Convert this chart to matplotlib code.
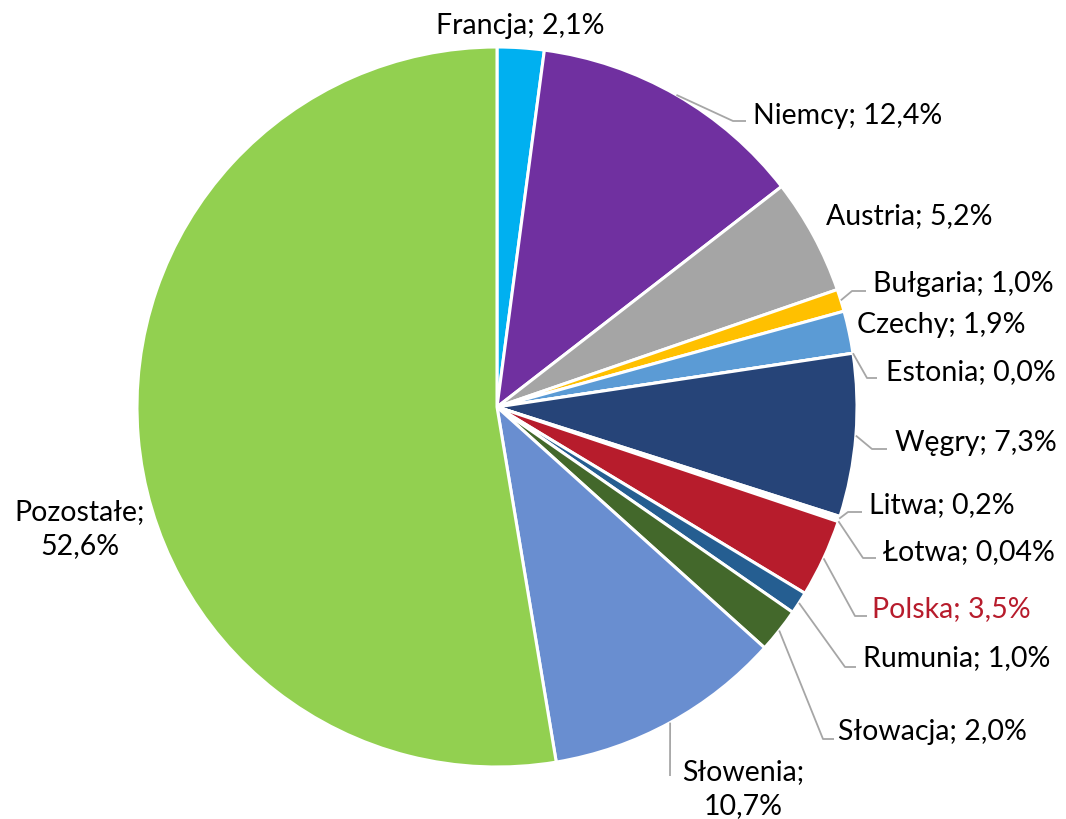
import numpy as np
import matplotlib
matplotlib.use("Agg")
import matplotlib.pyplot as plt

# data
labels = ['Francja', 'Niemcy', 'Austria', 'Bułgaria', 'Czechy', 'Estonia', 'Węgry',
          'Litwa', 'Łotwa', 'Polska', 'Rumunia', 'Słowacja', 'Słowenia', 'Pozostałe']
values = [2.1, 12.4, 5.2, 1.0, 1.9, 0.0, 7.3, 0.2, 0.04, 3.5, 1.0, 2.0, 10.7, 52.6]
texts = ['Francja; 2,1%', 'Niemcy; 12,4%', 'Austria; 5,2%', 'Bułgaria; 1,0%',
         'Czechy; 1,9%', 'Estonia; 0,0%', 'Węgry; 7,3%', 'Litwa; 0,2%',
         'Łotwa; 0,04%', 'Polska; 3,5%', 'Rumunia; 1,0%', 'Słowacja; 2,0%',
         'Słowenia;\n10,7%', 'Pozostałe;\n52,6%']
colors = ['#00B0F0', '#7030A0', '#A5A5A5', '#FFC000', '#5B9BD5', '#4472C4', '#264478',
          '#FFFFFF', '#FFFFFF', '#B71C2C', '#255E91', '#43682B', '#698ED0', '#92D050']

# layout (pixel coords, y down)
cx, cy, R = 497, 408, 360
# text position, alignment
text_pos = [(520, 26, 'center'), (753, 116, 'left'), (909, 216, 'center'),
            (873, 284, 'left'), (857, 325, 'left'), (886, 372, 'left'),
            (895, 443, 'left'), (869, 505, 'left'), (883, 552, 'left'),
            (872, 609, 'left'), (863, 658, 'left'), (838, 732, 'left'),
            (743, 789, 'center'), (80, 529, 'center')]
# leader line bends (None = no line)
elbows = [None, [(733, 122), (746, 122)], None, [(852, 292), (866, 292)], None,
          [(867, 379), (877, 379)], [(872, 450), (887, 450)],
          [(848, 513), (862, 513)], [(863, 559), (876, 559)],
          [(855, 617), (867, 617)], [(845, 668), (856, 668)],
          [(823, 740), (834, 740)], [(670, 777)], None]

plt.rcParams['font.family'] = ['Lato', 'DejaVu Sans']

fig = plt.figure(figsize=(10.66, 8.2), dpi=100)
ax = fig.add_axes([0, 0, 1, 1])

ax.pie(values, colors=colors, startangle=-90, counterclock=True,
       center=(cx, cy), radius=R, frame=True,
       wedgeprops=dict(edgecolor='white', linewidth=2.2))
ax.set_xlim(0, 1066)
ax.set_ylim(820, 0)
ax.set_aspect('equal')
ax.axis('off')

total = sum(values)
cum = np.cumsum([0] + values[:-1])
for i, lab in enumerate(labels):
    mid = (cum[i] + values[i] / 2) / total
    th = np.deg2rad(-90 + 360 * mid)
    sx, sy = cx + R * np.cos(th), cy + R * np.sin(th)
    if elbows[i] is not None:
        xs = [sx] + [p[0] for p in elbows[i]]
        ys = [sy] + [p[1] for p in elbows[i]]
        ax.plot(xs, ys, color='#A6A6A6', lw=1.3, solid_capstyle='butt')
    tx, ty, ha = text_pos[i]
    col = '#B71C2C' if lab == 'Polska' else '#000000'
    ax.text(tx, ty, texts[i], ha=ha, va='center', fontsize=20.5, color=col,
            multialignment='center', linespacing=1.35)

plt.savefig('out.png', dpi=100)
